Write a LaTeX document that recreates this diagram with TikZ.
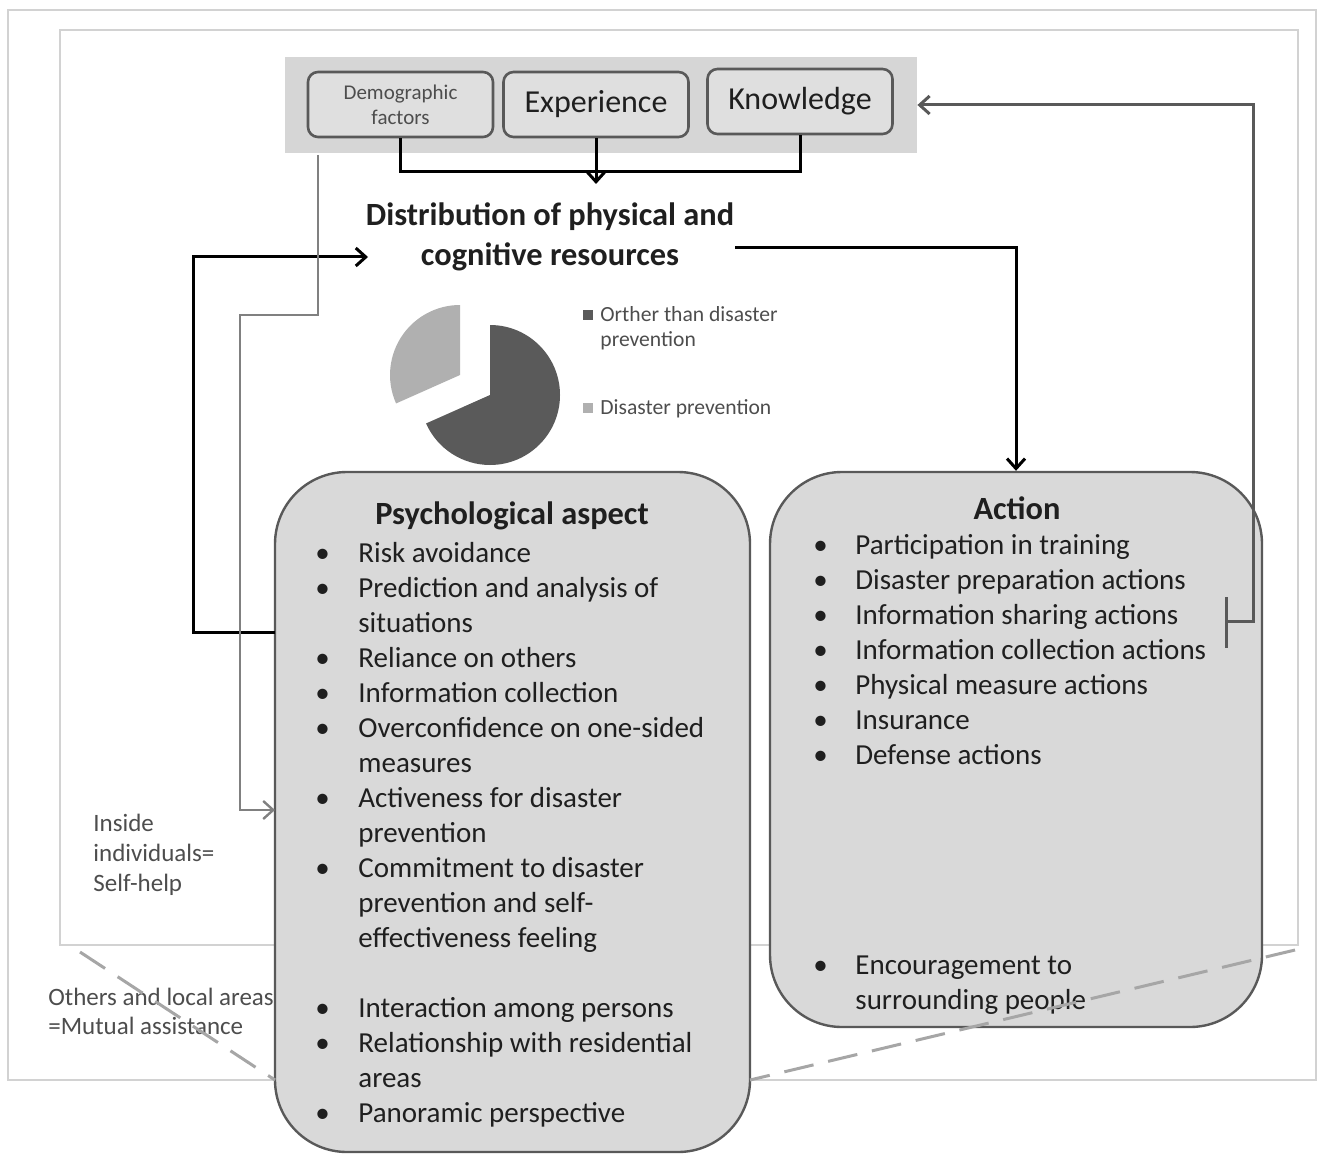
\documentclass[tikz,border=0pt]{standalone}
\usepackage{fontspec}
\setmainfont{Carlito}
\usepackage{xcolor}
\usetikzlibrary{arrows.meta}

\definecolor{bandfill}{HTML}{D6D6D6}
\definecolor{factorfill}{HTML}{DFDFDF}
\definecolor{boxfill}{HTML}{D9D9D9}
\definecolor{boxline}{HTML}{595959}
\definecolor{framegray}{HTML}{D2D2D2}
\definecolor{dashgray}{HTML}{A6A6A6}
\definecolor{piedark}{HTML}{5A5A5A}
\definecolor{pielight}{HTML}{B0B0B0}
\definecolor{textdark}{HTML}{1F1F1F}
\definecolor{textsoft}{HTML}{4D4D4D}

\begin{document}
\begin{tikzpicture}[x=0.5pt, y=-0.5pt, >={Straight Barb[length=5pt,width=9pt]}]
    \tikzstyle{factor} = [rectangle, rounded corners=5pt, draw=boxline, line width=1.3pt, fill=factorfill, minimum width=92.5pt, minimum height=32.5pt, text centered, text=textdark]
    \tikzstyle{aspect} = [rectangle, rounded corners=36pt, draw=boxline, line width=1.2pt, fill=boxfill]
    \tikzstyle{heading} = [font=\fontsize{16.2}{20}\selectfont\bfseries, text=textdark, align=center, inner sep=0pt]
    \tikzstyle{items} = [anchor=base west, inner sep=0pt, font=\fontsize{14.5}{17.5}\selectfont, text=textdark]
    \tikzstyle{sidenote} = [anchor=base west, inner sep=0pt, align=left, font=\fontsize{12.5}{15}\selectfont, text=textsoft]
    \tikzstyle{link} = [line width=1.5pt, draw=black]
    \tikzstyle{softlink} = [line width=1.2pt, draw=gray]
    \tikzstyle{frame} = [line width=1pt, draw=framegray]
    \tikzstyle{dashline} = [line width=1.5pt, draw=dashgray, dash pattern=on 15pt off 7.5pt]

    \useasboundingbox (0,0) rectangle (1325,1171);

    % Frames
    \draw [frame] (8,10) rectangle (1316,1080);
    \draw [frame] (60,30) rectangle (1298,945);

    % Factors
    \node [fill=bandfill, minimum width=316pt, minimum height=48pt, inner sep=0pt] (band) at (601,105) {};
    \node [factor, font=\fontsize{10.5}{12.5}\selectfont, text=textsoft, align=center] (demo) at (400.5,104.5) {Demographic\\factors};
    \node [factor, font=\fontsize{16}{18}\selectfont] (exp) at (596,104.5) {Experience};
    \node [factor, font=\fontsize{16}{18}\selectfont] (know) at (800,101.5) {Knowledge};

    % Resources
    \node [heading] (dist) at (550,237) {Distribution of physical and\\cognitive resources};
    \coordinate (join) at (596,172);
    \coordinate (distTop) at (596,184);
    \coordinate (distIn) at (368,257);
    \coordinate (distOut) at (735,248);

    % Pie chart
    \fill [piedark] (490,395) -- ++(-90:70) arc [start angle=-90, end angle=156, radius=70] -- cycle;
    \fill [pielight] (460,375) -- ++(156:70) arc [start angle=156, end angle=270, radius=70] -- cycle;
    \fill [piedark] (583,310) rectangle (593,320);
    \fill [pielight] (583,403) rectangle (593,413);
    \node [sidenote, font=\fontsize{10.8}{12.5}\selectfont] (legA) at (600,346) {Orther than disaster\\prevention};
    \node [sidenote, font=\fontsize{10.8}{12.5}\selectfont] (legB) at (600,414) {Disaster prevention};

    % Aspects
    \node [aspect, minimum width=237.5pt, minimum height=340pt] (psych) at (512.5,812) {};
    \node [aspect, minimum width=246pt, minimum height=277.5pt] (action) at (1016,749.5) {};
    \node [heading] (psychTitle) at (512,516) {Psychological aspect};
    \node [heading] (actionTitle) at (1017,508) {Action};

    \node [items] (psychList) at (315,562) {\begin{tabular}[t]{@{}p{21.5pt}@{}l@{}}
        \textbullet & Risk avoidance\\
        \textbullet & Prediction and analysis of\\
                    & situations\\
        \textbullet & Reliance on others\\
        \textbullet & Information collection\\
        \textbullet & Overconfidence on one-sided\\
                    & measures\\
        \textbullet & Activeness for disaster\\
                    & prevention\\
        \textbullet & Commitment to disaster\\
                    & prevention and self-\\
                    & effectiveness feeling\\
                    & \\
        \textbullet & Interaction among persons\\
        \textbullet & Relationship with residential\\
                    & areas\\
        \textbullet & Panoramic perspective
    \end{tabular}};

    \node [items] (actionList) at (813,554) {\begin{tabular}[t]{@{}p{21pt}@{}l@{}}
        \textbullet & Participation in training\\
        \textbullet & Disaster preparation actions\\
        \textbullet & Information sharing actions\\
        \textbullet & Information collection actions\\
        \textbullet & Physical measure actions\\
        \textbullet & Insurance\\
        \textbullet & Defense actions\\
                    & \\ & \\ & \\ & \\ & \\
        \textbullet & Encouragement to\\
                    & surrounding people
    \end{tabular}};

    % Areas
    \node [sidenote] (self) at (93,891) {Inside\\individuals=\\Self-help};
    \node [sidenote, font=\fontsize{12.5}{14.5}\selectfont] (mutual) at (48,1034) {Others and local areas\\=Mutual assistance};
    \draw [dashline] (80,952) -- (275,1080);
    \draw [dashline] (1295,950) -- (750,1080);

    % Connections
    \draw [link] (demo.south) |- (join) -| (know.south);
    \draw [link, ->] (exp.south) -- (distTop);
    \coordinate (psychOut) at (275,632);
    \draw [link, ->] (psychOut) -- ++(-82,0) |- (distIn);
    \draw [link, ->] (distOut) -| (action.north);

    \coordinate (bandOut) at (318,155);
    \coordinate (psychIn) at (275,810);
    \draw [softlink, ->] (bandOut) |- (240,315) |- (psychIn);

    \coordinate (brTop) at (1226,597);
    \coordinate (brBot) at (1226,648);
    \coordinate (brMid) at (1226,621);
    \draw [link, draw=boxline] (brTop) -- (brBot);
    \draw [link, draw=boxline, ->] (brMid) -- ++(27,0) |- (band.east);
\end{tikzpicture}
\end{document}
